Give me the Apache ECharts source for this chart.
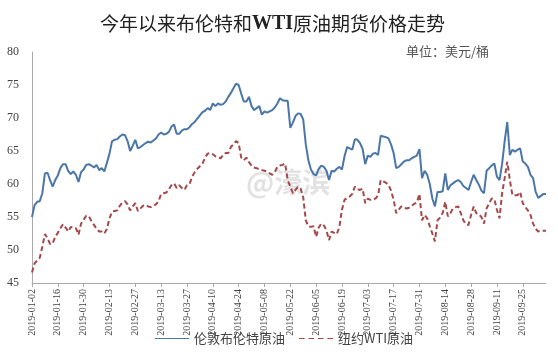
<!DOCTYPE html>
<html>
<head>
<meta charset="utf-8">
<script src="https://cdn.jsdelivr.net/npm/echarts@6/dist/echarts.min.js"></script>
<style>html,body{margin:0;padding:0;background:#fff;}#c{width:558px;height:355px;}</style>
</head>
<body>
<div id="c"></div>
<script>
// Brent daily closes (trading days from 2019-01-02)
var brent = [
55.0,56.8,57.3,57.4,58.6,61.6,61.7,60.6,59.6,60.6,
61.3,62.4,63.0,63.0,62.0,61.5,61.9,61.4,60.3,61.8,
62.2,62.9,63.0,62.8,62.5,62.9,62.1,62.4,61.9,63.2,
64.6,66.5,66.7,66.8,67.2,67.5,67.4,66.5,65.0,65.8,
66.7,65.4,65.6,65.9,66.2,66.4,66.3,66.6,66.9,67.5,
67.8,67.5,67.6,67.9,68.7,69.0,67.6,67.6,68.1,68.3,
68.3,68.6,69.1,69.4,69.9,70.4,70.9,71.1,71.5,71.2,
72.2,71.8,72.2,72.0,72.1,72.5,73.2,73.8,74.5,75.2,
75.0,73.7,72.5,72.5,73.2,71.8,71.2,71.5,71.8,70.5,
71.0,70.8,71.0,71.2,71.6,72.2,73.0,72.7,72.6,72.6,
68.5,69.3,70.3,70.7,70.6,69.8,66.0,63.6,62.2,61.5,
61.3,62.3,62.8,62.6,62.0,60.6,62.0,61.9,62.3,62.6,
62.2,64.2,65.6,65.4,65.2,66.8,66.7,66.2,65.3,63.0,
64.3,64.1,64.6,64.7,64.4,67.3,67.2,67.1,66.9,66.0,
64.7,62.4,62.6,63.0,63.4,63.6,63.6,63.9,64.1,64.3,
65.3,60.9,62.0,61.4,60.0,57.8,56.6,58.8,58.8,58.9,
61.6,59.1,59.8,60.1,60.4,60.6,60.3,59.7,59.4,59.1,
60.3,61.4,60.6,59.9,59.0,58.6,62.0,62.4,62.8,63.1,
61.1,60.6,63.0,66.5,69.4,64.4,65.2,64.9,65.2,65.4,
63.4,63.1,62.6,61.4,60.9,58.8,57.9,58.2,58.5,58.5
];
// WTI daily closes
var wti = [
46.6,48.0,48.4,48.8,50.5,52.4,51.8,50.9,51.0,52.0,
52.6,53.3,53.9,53.4,52.8,53.5,53.3,53.3,52.3,54.0,
54.6,55.2,55.1,54.4,53.8,53.2,52.8,52.8,52.5,53.2,
54.8,55.8,55.9,56.0,56.7,57.2,57.4,56.9,56.0,56.6,
57.1,55.9,56.3,56.7,56.8,56.6,56.5,56.7,56.9,57.4,
58.5,58.6,58.7,59.2,59.8,60.1,59.4,59.8,59.4,59.1,
59.8,60.0,61.1,61.8,62.3,62.7,63.1,64.0,64.6,64.7,
64.5,64.2,64.0,63.9,64.4,64.7,64.7,65.6,66.0,66.5,
66.2,64.0,63.6,64.0,63.3,62.8,62.5,62.4,62.2,62.1,
62.0,61.9,61.6,61.4,61.8,62.6,62.8,62.9,63.1,60.6,
59.6,58.6,59.1,59.6,59.3,58.0,54.5,53.6,53.5,53.6,
52.0,53.4,54.0,53.7,53.0,51.5,52.8,52.6,52.4,53.5,
56.1,57.6,57.9,58.1,58.5,59.6,59.2,59.1,59.3,57.1,
57.8,57.6,57.7,57.8,58.3,60.6,60.4,60.2,59.9,59.0,
57.6,55.6,56.1,56.6,56.4,56.3,56.4,56.7,57.0,57.2,
58.5,54.5,55.3,54.8,53.6,52.5,51.3,54.5,54.9,55.6,
57.3,55.1,55.6,56.3,56.5,56.6,55.6,54.5,53.9,53.8,
55.3,56.6,55.6,55.4,55.0,54.0,56.3,57.1,57.8,57.7,
56.1,54.8,58.6,60.9,63.4,60.6,58.3,58.3,58.3,58.8,
57.1,56.5,56.0,55.3,54.0,53.2,52.8,52.9,52.9,52.9
];
var seriesNames = ['伦敦布伦特原油', '纽约WTI原油'];
var startDate = '2019-01-02';
var yTicks = {min: 45, max: 80, interval: 5};

// trading-day categories (weekdays)
var categories = [];
(function () {
  var d = new Date(startDate + 'T00:00:00Z');
  while (categories.length < brent.length) {
    var w = d.getUTCDay();
    if (w !== 0 && w !== 6) {
      var m = d.getUTCMonth() + 1, day = d.getUTCDate();
      categories.push(d.getUTCFullYear() + '-' + (m < 10 ? '0' : '') + m + '-' + (day < 10 ? '0' : '') + day);
    }
    d.setUTCDate(d.getUTCDate() + 1);
  }
})();

var chart = echarts.init(document.getElementById('c'), null, {renderer: 'canvas'});
chart.setOption({
  animation: false,
  backgroundColor: '#fff',
  title: {
    text: '{a|今年以来布伦特和}{b|WTI}{a|原油期货价格走势}',
    left: 95,
    top: 9,
    textStyle: {
      rich: {
        a: {fontFamily: 'Noto Sans CJK SC', fontSize: 19, color: '#222', fontWeight: 'normal'},
        b: {fontFamily: 'Liberation Serif', fontSize: 20, color: '#222', fontWeight: 'bold'}
      }
    }
  },
  graphic: [
    {type: 'text', left: 406, top: 45, style: {text: '单位：美元/桶', fontFamily: 'Noto Sans CJK SC', fontSize: 13, fill: '#555'}},
    {type: 'text', left: 246, top: 168, z: 0, style: {text: '@濠滨', fontFamily: 'Noto Sans CJK SC', fontSize: 28, fontWeight: 'bold', fill: 'rgba(190,190,190,0.45)'}}
  ],
  legend: {
    bottom: 5,
    left: 150,
    itemWidth: 34,
    itemHeight: 10,
    itemGap: 14,
    textStyle: {fontFamily: 'Noto Sans CJK SC', fontSize: 13, color: '#444'},
    data: [
      {name: seriesNames[0], icon: 'path://M0,4.5L40,4.5L40,5.5L0,5.5Z'},
      {name: seriesNames[1], icon: 'path://M0,4.5L6,4.5L6,5.5L0,5.5ZM10,4.5L16,4.5L16,5.5L10,5.5ZM20,4.5L26,4.5L26,5.5L20,5.5ZM30,4.5L36,4.5L36,5.5L30,5.5Z'}
    ]
  },
  grid: {left: 32, right: 12, top: 52, bottom: 72, containLabel: false},
  xAxis: {
    type: 'category',
    data: categories,
    boundaryGap: false,
    axisLine: {lineStyle: {color: '#aaa', width: 1}},
    axisTick: {show: true, interval: 9, length: 4, lineStyle: {color: '#aaa'}},
    axisLabel: {interval: 9, rotate: 90, fontFamily: 'Liberation Serif', fontSize: 10, color: '#444', margin: 6},
    splitLine: {show: false}
  },
  yAxis: {
    type: 'value',
    min: yTicks.min, max: yTicks.max, interval: yTicks.interval,
    axisLine: {show: true, lineStyle: {color: '#aaa', width: 1}},
    axisTick: {show: false},
    axisLabel: {fontFamily: 'Liberation Serif', fontSize: 12, color: '#444', margin: 13},
    splitLine: {show: false}
  },
  series: [
    {
      name: seriesNames[0], type: 'line', data: brent, symbol: 'none', z: 3,
      lineStyle: {color: '#4a76a8', width: 2},
      itemStyle: {color: '#4a76a8'}
    },
    {
      name: seriesNames[1], type: 'line', data: wti, symbol: 'none', z: 2,
      lineStyle: {color: '#a5484a', width: 2, type: [5, 3]},
      itemStyle: {color: '#a5484a'}
    }
  ]
});
</script>
</body>
</html>
